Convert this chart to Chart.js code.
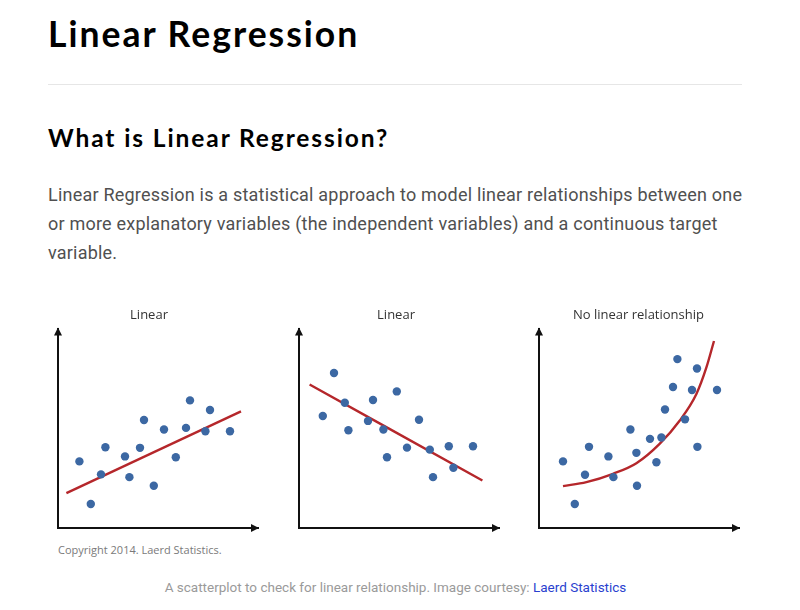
<!DOCTYPE html>
<html>
<head>
<meta charset="utf-8">
<script src="https://cdn.jsdelivr.net/npm/chart.js@4/dist/chart.umd.min.js"></script>
<style>
  body { margin: 0; width: 800px; height: 610px; background: #fff; position: relative; overflow: hidden; }
  .t1 { position: absolute; left: 48px; top: 16px; margin: 0; font: 700 35.5px/35.5px Lato, sans-serif; letter-spacing: 2px; color: #000; white-space: nowrap; }
  .rule { position: absolute; left: 48px; top: 84px; width: 694px; height: 1px; background: #e6e6e6; }
  .t2 { position: absolute; left: 48px; top: 125.5px; margin: 0; font: 700 24.5px/24.5px Lato, sans-serif; letter-spacing: 1.9px; color: #000; white-space: nowrap; }
  .para { position: absolute; left: 48px; top: 180px; margin: 0; font: 400 18px/29px Roboto, sans-serif; letter-spacing: 0.21px; color: #505050; white-space: nowrap; }
  canvas { position: absolute; top: 300px; }
  .copy { position: absolute; left: 58px; top: 543px; font: 400 11px/14px "Open Sans", sans-serif; color: #7a7a7a; white-space: nowrap; }
  .caption { position: absolute; left: 0; width: 791px; top: 579px; text-align: center; font: 400 13.5px/16px Roboto, sans-serif; color: #9a9a9a; white-space: nowrap; }
  .caption a { color: #2a3fcf; text-decoration: none; }
</style>
</head>
<body>
<h1 class="t1">Linear Regression</h1>
<div class="rule"></div>
<h2 class="t2">What is Linear Regression?</h2>
<p class="para">Linear Regression is a statistical approach to model linear relationships between one<br>or more explanatory variables (the independent variables) and a continuous target<br>variable.</p>

<canvas id="c1" width="240" height="240" style="left:40px"></canvas>
<canvas id="c2" width="240" height="240" style="left:281px"></canvas>
<canvas id="c3" width="240" height="240" style="left:520px"></canvas>

<div class="copy">Copyright 2014. Laerd Statistics.</div>
<div class="caption">A scatterplot to check for linear relationship. Image courtesy: <a href="#">Laerd Statistics</a></div>

<script>
// panel titles
const titles = ['Linear', 'Linear', 'No linear relationship'];

// left panel: positive linear
const upX = [10.7, 16.4, 21.5, 23.7, 33.5, 35.7, 41, 43, 47.9, 53, 58.9, 64, 66, 73.7, 76, 86];
const upY = [33.4, 12, 26.9, 40.5, 35.9, 25.5, 40.2, 54.2, 21.2, 49.4, 35.5, 50.2, 64, 48.5, 59.2, 48.5];
const upFitX = [4.2, 91.5];
const upFitY = [17.5, 58.5];

// middle panel: negative linear
const downX = [17.5, 11.9, 22.9, 24.7, 34.5, 37, 42.2, 44, 48.9, 54, 60, 65.4, 67, 74.9, 77.2, 87];
const downY = [77.7, 56.2, 62.8, 49, 53.7, 64.2, 49.4, 35.5, 68.5, 40.3, 54.3, 39.3, 25.5, 41, 30.2, 41];
const downFitX = [5.3, 91.7];
const downFitY = [72, 23.8];

// right panel: curved
const curveX = [12, 17.9, 23, 25, 34.7, 37.2, 45.7, 48.7, 49, 55.5, 58.7, 61.2, 63, 67, 69.2, 73, 76.5, 79, 79.2, 89];
const curveY = [33.4, 12, 26.7, 40.7, 35.9, 25.5, 49.4, 37.7, 21.2, 44.7, 33, 45.4, 59.4, 70.7, 84.7, 54.5, 69.2, 80, 40.7, 69.2];
const curveFitX = [12, 23.7, 37, 48.7, 60.3, 70.3, 78.7, 83.7, 87.5];
const curveFitY = [21, 23, 27.2, 32.5, 42.2, 53.8, 67.2, 80.5, 93.8];

const pointColor = '#3c68a3';
const fitColor = '#b5272b';

const toXY = (xs, ys) => xs.map((x, i) => ({ x: x, y: ys[i] }));

// arrow heads on the ends of both axes
const axisArrows = {
  id: 'axisArrows',
  afterDraw(chart) {
    const a = chart.chartArea;
    const ctx = chart.ctx;
    ctx.save();
    ctx.fillStyle = '#111';
    ctx.beginPath();
    ctx.moveTo(a.left, a.top - 1);
    ctx.lineTo(a.left - 4, a.top + 7);
    ctx.lineTo(a.left + 4, a.top + 7);
    ctx.closePath();
    ctx.moveTo(a.right + 1, a.bottom);
    ctx.lineTo(a.right - 7, a.bottom - 4);
    ctx.lineTo(a.right - 7, a.bottom + 4);
    ctx.closePath();
    ctx.fill();
    ctx.restore();
  }
};

const xAxis = {
  min: 0, max: 100,
  ticks: { display: false },
  grid: { display: false, drawTicks: false, tickLength: 0 },
  border: { display: true, color: '#111', width: 2 }
};

// axisLeft: where the y axis sits in the canvas; titleLeft: left edge of the title box
function makePanel(id, title, xs, ys, fitXs, fitYs, axisLeft, titleLeft) {
  const yAxis = Object.assign({}, xAxis, {
    afterFit(scale) { scale.width = axisLeft - titleLeft; }
  });
  new Chart(document.getElementById(id), {
    type: 'scatter',
    data: {
      datasets: [
        { data: toXY(xs, ys), backgroundColor: pointColor, borderWidth: 0, pointRadius: 4.2 },
        { data: toXY(fitXs, fitYs), showLine: true, borderColor: fitColor, borderWidth: 2.4,
          pointRadius: 0, cubicInterpolationMode: 'monotone', fill: false }
      ]
    },
    options: {
      responsive: false,
      animation: false,
      devicePixelRatio: 1,
      layout: { padding: { left: titleLeft, right: 240 - axisLeft - 200, top: 0, bottom: 12 } },
      plugins: {
        legend: { display: false },
        tooltip: { enabled: false },
        title: { display: true, text: title, color: '#333', padding: { top: 7, bottom: 6 },
                 font: { family: '"Open Sans", sans-serif', size: 13, weight: 'normal' } }
      },
      scales: { x: xAxis, y: yAxis }
    },
    plugins: [axisArrows]
  });
}

makePanel('c1', titles[0], upX, upY, upFitX, upFitY, 18, 0);
makePanel('c2', titles[1], downX, downY, downFitX, downFitY, 18, 12);
makePanel('c3', titles[2], curveX, curveY, curveFitX, curveFitY, 19, 18);
</script>
</body>
</html>
